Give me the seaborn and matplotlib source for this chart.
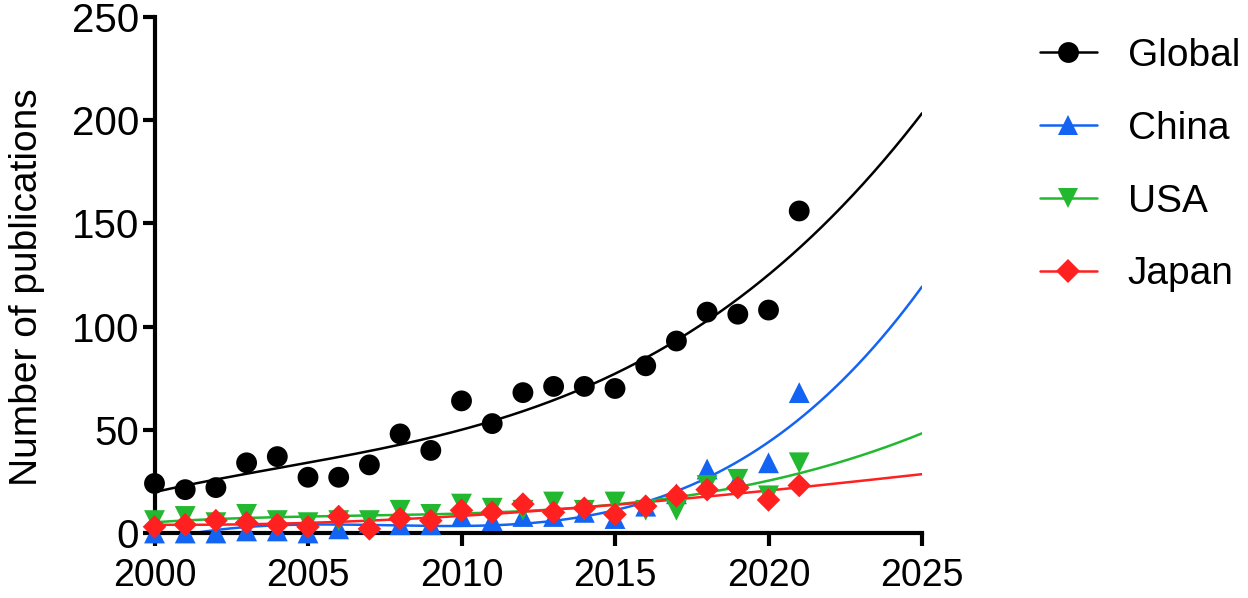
import numpy as np
import pandas as pd
import matplotlib
matplotlib.use("Agg")
import matplotlib.pyplot as plt
from matplotlib.lines import Line2D
import seaborn as sns

# publications per year
years = list(range(2000, 2022))
global_pubs = [24, 21, 22, 34, 37, 27, 27, 33, 48, 40, 64, 53, 68, 71, 71, 70, 81, 93, 107, 106, 108, 156]
china_pubs = [0, 0, 0, 1, 1, 0, 2, 5, 4, 4, 8, 6, 8, 8, 10, 7, 13, 19, 31, 26, 34, 68]
usa_pubs = [6, 8, 5, 9, 6, 5, 6, 6, 11, 9, 14, 12, 11, 15, 11, 15, 11, 11, 23, 26, 18, 34]
japan_pubs = [3, 4, 6, 5, 4, 3, 8, 2, 7, 6, 11, 10, 14, 10, 12, 9, 13, 18, 21, 22, 16, 23]

series_names = ["Global", "China", "USA", "Japan"]
series_values = [global_pubs, china_pubs, usa_pubs, japan_pubs]
colors = ["#000000", "#1464f4", "#22b830", "#ff2020"]
markers = ["o", "^", "v", "D"]
marker_sizes = [15, 15, 15, 12]

x_ticks = [2000, 2005, 2010, 2015, 2020, 2025]
y_ticks = [0, 50, 100, 150, 200, 250]

# trend lines: third-order polynomial fitted to each series, drawn out to 2025
fit_x = np.linspace(2000, 2025, 300)


df = pd.DataFrame({"year": years})
for name, vals in zip(series_names, series_values):
    df[name] = vals
long_df = df.melt(id_vars="year", var_name="country", value_name="pubs")

sns.set_style("ticks")
plt.rcParams["font.family"] = ["Liberation Sans", "DejaVu Sans"]
plt.rcParams["text.color"] = "black"
plt.rcParams["axes.labelcolor"] = "black"
plt.rcParams["xtick.color"] = "black"
plt.rcParams["ytick.color"] = "black"

fig = plt.figure(figsize=(12.48, 5.98), dpi=100)
ax = fig.add_axes([0.1238, 0.1087, 0.615, 0.863])

handles = []
for name, color, marker, ms in zip(series_names, colors, markers, marker_sizes):
    coef = np.polyfit(np.array(years) - 2000, df[name], 3)
    fit_df = pd.DataFrame({"year": fit_x, "fit": np.polyval(coef, fit_x - 2000)})
    sns.lineplot(data=fit_df, x="year", y="fit", color=color, linewidth=1.8, ax=ax)
    sub = long_df[long_df["country"] == name]
    sns.scatterplot(data=sub, x="year", y="pubs", color=color, marker=marker,
                    s=ms ** 2, edgecolor="none", linewidth=0, ax=ax,
                    clip_on=False, zorder=3)
    handles.append(Line2D([], [], color=color, marker=marker, markersize=ms,
                          linewidth=1.8, markeredgewidth=0))

ax.set_xlim(2000, 2025)
ax.set_ylim(0, 250)
ax.set_xticks(x_ticks)
ax.set_yticks(y_ticks)
ax.set_xlabel("")
ax.set_ylabel("Number of publications", fontsize=28)
ax.yaxis.set_label_coords(-0.143, 0.477)
ax.tick_params(width=3, length=9, direction="out")
ax.tick_params(axis="x", labelsize=27, pad=9)
ax.tick_params(axis="y", labelsize=29, pad=2)
for side in ["top", "right"]:
    ax.spines[side].set_visible(False)
for side in ["left", "bottom"]:
    ax.spines[side].set_linewidth(3)
    ax.spines[side].set_color("black")

ax.legend(handles, series_names, loc="upper left", bbox_to_anchor=(1.133, 0.99),
          borderaxespad=0, frameon=False, fontsize=28, handlelength=1.47,
          labelspacing=0.95, handletextpad=0.8)

fig.savefig("out.png", dpi=100)
